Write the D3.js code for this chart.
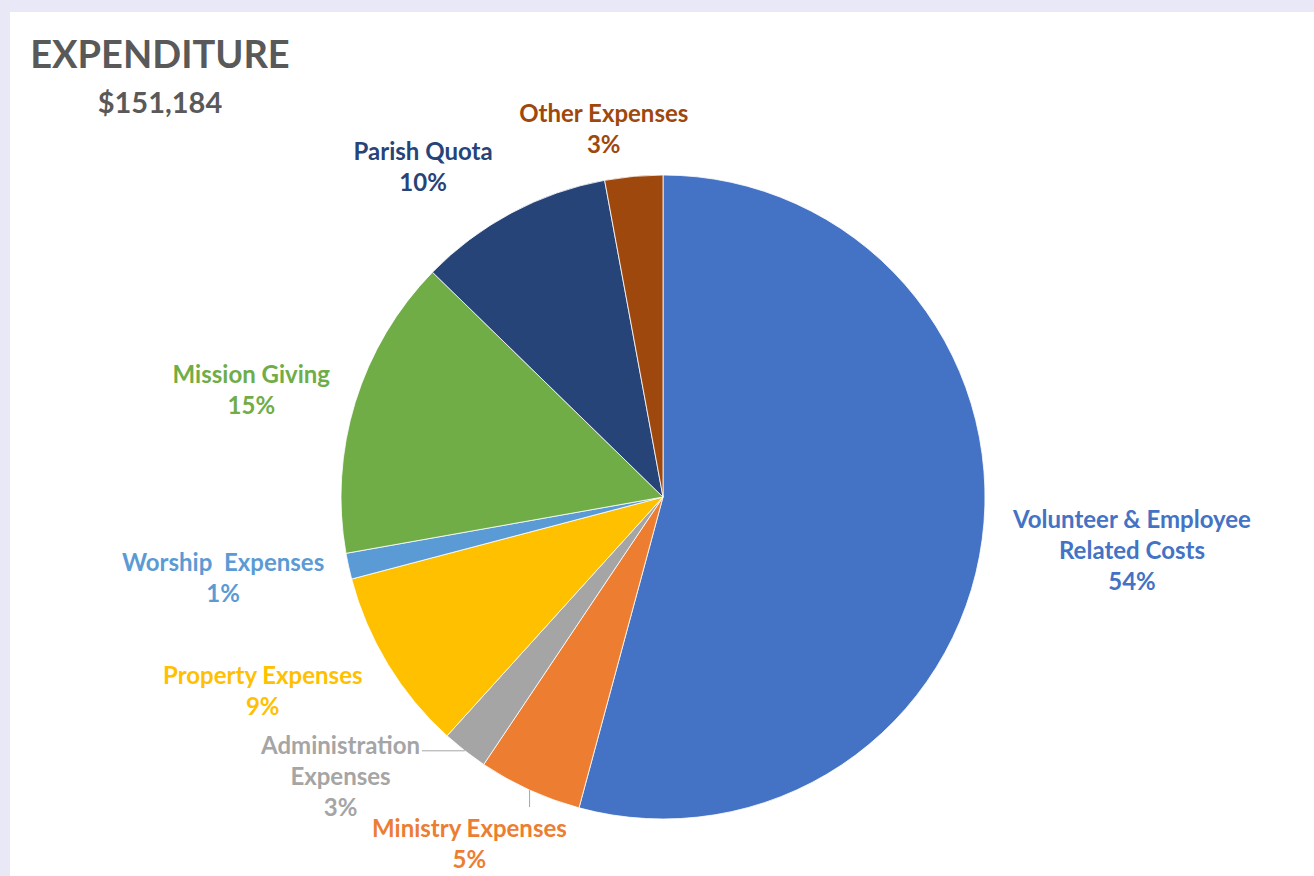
<html><head>
<meta charset="UTF-8">
<title>Expenditure</title>
<script src="https://d3js.org/d3.v7.min.js"></script>
<style>
    body { margin: 0; background: #e8e8f6; }
    text { font-family: Lato, "Open Sans", sans-serif; font-weight: 700; white-space: pre; }
</style>
</head>
<body>
<svg id="chart" width="1314" height="876"></svg>
<script>
    // data (share of total, %)
    const categories = ["Volunteer & Employee\nRelated Costs", "Ministry Expenses", "Administration\nExpenses",
        "Property Expenses", "Worship  Expenses", "Mission Giving", "Parish Quota", "Other Expenses"];
    const shares = [54.2, 5.2, 2.3, 9.2, 1.3, 15.1, 9.8, 2.9];
    const pctLabels = ["54%", "5%", "3%", "9%", "1%", "15%", "10%", "3%"];
    const colors = ["#4472c4", "#ed7d31", "#a5a5a5", "#ffc000", "#5b9bd5", "#70ad47", "#264478", "#9e480e"];
    const title = "EXPENDITURE";
    const total = "$151,184";

    // layout
    const W = 1314, H = 876;
    const cx = 663, cy = 497, R = 322, gap = 14;
    const nudge = [[17, 2], [-14, 13], [-67, -22], [-28, 3], [-13, 1], [-15, 0], [-49, -8], [-21, -5]];
    const leader = [null, "v", "h", null, null, null, null, null];

    const svg = d3.select("#chart");
    svg.append("rect").attr("width", W).attr("height", H).attr("fill", "#e8e8f6");
    svg.append("rect").attr("x", 10).attr("y", 12).attr("width", W - 10).attr("height", H - 12).attr("fill", "#fff");

    svg.append("text").attr("x", 160).attr("y", 68).attr("text-anchor", "middle")
        .attr("font-size", 38).attr("fill", "#595959").text(title);
    svg.append("text").attr("x", 160).attr("y", 113).attr("text-anchor", "middle")
        .attr("font-size", 29).attr("fill", "#595959").text(total);

    const pie = d3.pie().sort(null).value(d => d);
    const arcs = pie(shares);
    const arc = d3.arc().innerRadius(0).outerRadius(R);

    const g = svg.append("g").attr("transform", `translate(${cx},${cy})`);
    g.selectAll("path").data(arcs).enter().append("path")
        .attr("d", arc)
        .attr("fill", (d, i) => colors[i])
        .attr("stroke", "#fff").attr("stroke-width", 0.8);

    const lineH = 31;
    arcs.forEach((d, i) => {
        const a = (d.startAngle + d.endAngle) / 2;
        const ux = Math.sin(a), uy = -Math.cos(a);
        const lines = categories[i].split("\n").concat([pctLabels[i]]);
        const lg = g.append("g");
        const t = lg.append("text").attr("text-anchor", "middle").attr("font-size", 24).attr("fill", colors[i]);
        lines.forEach((s, k) => {
            t.append("tspan").attr("x", 0).attr("y", k * lineH).text(s);
        });
        const bb = t.node().getBBox();
        const px = ux * (R + gap), py = uy * (R + gap);
        const bx = px + ux * bb.width / 2 + nudge[i][0];
        const by = py + uy * bb.height / 2 + nudge[i][1];
        const ox = bx - (bb.x + bb.width / 2), oy = by - (bb.y + bb.height / 2);
        lg.attr("transform", `translate(${ox},${oy})`);

        if (leader[i]) {
            const ax = ux * R, ay = uy * R;
            let x2, y2;
            if (leader[i] === "h") {
                const w1 = t.select("tspan").node().getComputedTextLength();
                x2 = ox + w1 / 2 + 2; y2 = ay;
            } else {
                x2 = ax; y2 = oy + bb.y - 6;
            }
            g.append("line").attr("x1", ax).attr("y1", ay).attr("x2", x2).attr("y2", y2)
                .attr("stroke", "#a6a6a6").attr("stroke-width", 1);
        }
    });
</script>
</body>
</html>
